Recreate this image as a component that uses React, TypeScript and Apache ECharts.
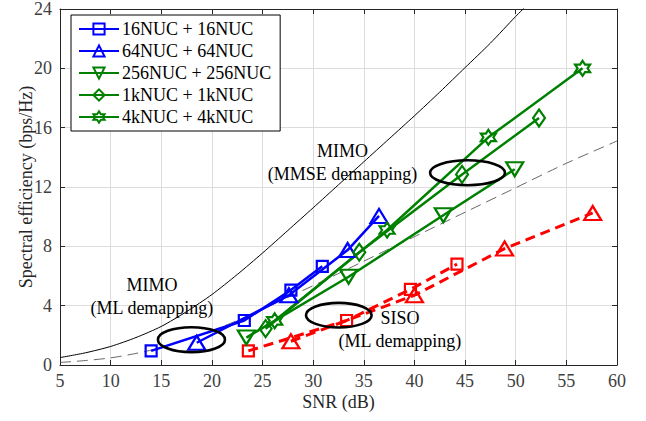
import React, { useEffect, useRef } from "react";
import * as echarts from "echarts";

// ---------- data ----------
const nuc16Snr = [14.0, 23.2, 27.8, 30.9];
const nuc16Se = [0.95, 3.0, 5.05, 6.65];
const nuc64Snr = [18.5, 27.6, 33.4, 36.5];
const nuc64Se = [1.5, 4.7, 7.75, 10.05];
const nuc256Snr = [23.4, 33.5, 42.85, 49.9];
const nuc256Se = [1.85, 5.95, 10.1, 13.2];
const nuc1kSnr = [25.3, 34.55, 44.7, 52.3];
const nuc1kSe = [2.45, 7.6, 12.85, 16.65];
const nuc4kSnr = [26.2, 37.3, 47.3, 56.6];
const nuc4kSe = [2.98, 9.1, 15.35, 20.0];
const sisoNuc16Snr = [23.6, 33.3, 39.6, 44.2];
const sisoNuc16Se = [0.95, 3.0, 5.1, 6.8];
const sisoNuc64Snr = [27.8, 40.0, 48.9, 57.6];
const sisoNuc64Se = [1.6, 4.7, 7.85, 10.25];

const mimoCapSnr = [5, 7.5, 10, 12.5, 15, 17.5, 20, 22.5, 25, 27.5, 30, 32.5, 35, 37.5, 40, 42.5, 45, 47.5, 50, 52.5];
const mimoCapSe = [0.5, 0.82, 1.25, 1.85, 2.6, 3.6, 4.75, 6.1, 7.55, 9.07, 10.6, 12.15, 13.7, 15.25, 16.8, 18.4, 20.05, 21.7, 23.5, 25.2];
const sisoCapSnr = [5, 7.5, 10, 12.5, 15, 17.5, 20, 22.5, 25, 30, 35, 40, 45, 50, 55, 60];
const sisoCapSe = [0.17, 0.3, 0.48, 0.78, 1.17, 1.7, 2.3, 3.0, 3.77, 5.35, 7.0, 8.65, 10.3, 11.95, 13.6, 15.1];

const legendNames = [
  "16NUC + 16NUC",
  "64NUC + 64NUC",
  "256NUC + 256NUC",
  "1kNUC + 1kNUC",
  "4kNUC + 4kNUC",
];

const xTicks = { min: 5, max: 60, interval: 5 };
const yTicks = { min: 0, max: 24, interval: 4 };

// ellipse annotations: centre (snr, se) and radii in data units
const ellipseCx = [17.98, 45.24, 32.53];
const ellipseCy = [1.71, 12.96, 3.36];
const ellipseRx = [3.31, 3.7, 3.24];
const ellipseRy = [0.84, 0.84, 0.83];

// text annotations
const noteText = ["MIMO\n(ML demapping)", "MIMO\n(MMSE demapping)", "SISO\n(ML demapping)"];
const noteX = [14.08, 32.9, 38.57];
const noteY = [4.6, 13.63, 2.39];

// ---------- styles ----------
const FONT = "'Liberation Serif', 'Times New Roman', 'DejaVu Serif', serif";
const BLUE = "#0000ff";
const GREEN = "#008000";
const RED = "#ff0000";
const HEXAGRAM =
  "path://M0,-10 L2.887,-5 L8.66,-5 L5.774,0 L8.66,5 L2.887,5 L0,10 L-2.887,5 L-8.66,5 L-5.774,0 L-8.66,-5 L-2.887,-5 Z";

const pairs = (xs: number[], ys: number[]) => xs.map((x, i) => [x, ys[i]]);

function markerSeries(
  name: string,
  xs: number[],
  ys: number[],
  color: string,
  symbol: string,
  size: any,
  rotate = 0,
  dashed = false
) {
  return {
    name,
    type: "line",
    data: pairs(xs, ys),
    symbol,
    symbolSize: size,
    symbolRotate: rotate,
    showAllSymbol: true,
    lineStyle: { color, width: dashed ? 3 : 2.5, type: dashed ? [10, 6] : "solid" },
    itemStyle: { color: "rgba(255,255,255,0)", borderColor: color, borderWidth: 2.2 },
    z: 5,
  };
}

export default function App() {
  const ref = useRef<HTMLDivElement>(null);
  useEffect(() => {
    const chart = echarts.init(ref.current!, null, { renderer: "svg" });
    const axisText = { fontFamily: FONT, fontSize: 18, color: "#404040" };
    const option: any = {
      animation: false,
      backgroundColor: "#fff",
      textStyle: { fontFamily: FONT },
      grid: { left: 60, right: 29, top: 8, bottom: 56, containLabel: false },
      legend: {
        data: legendNames,
        orient: "vertical",
        left: 71,
        top: 15,
        backgroundColor: "#fff",
        borderColor: "#000",
        borderWidth: 1,
        borderRadius: 0,
        padding: [4, 9, 4, 7],
        itemWidth: 40,
        itemHeight: 14,
        itemGap: 2,
        textStyle: { fontFamily: FONT, fontSize: 18, color: "#000", lineHeight: 20, padding: [0, 0, 0, -2] },
        z: 20,
      },
      xAxis: [
        {
          type: "value",
          ...xTicks,
          name: "SNR (dB)",
          nameLocation: "middle",
          nameGap: 28,
          nameMoveOverlap: false,
          nameTextStyle: { ...axisText, color: "#262626" },
          axisLine: { show: true, onZero: false, lineStyle: { color: "#262626", width: 1 } },
          axisTick: { show: true, inside: true, length: 5, lineStyle: { color: "#262626" } },
          axisLabel: { ...axisText, margin: 7 },
          splitLine: { show: true, lineStyle: { color: "#dcdcdc", width: 1 } },
        },
        {
          type: "value",
          ...xTicks,
          position: "top",
          axisLine: { show: true, onZero: false, lineStyle: { color: "#262626", width: 1 } },
          axisTick: { show: true, inside: true, length: 5, lineStyle: { color: "#262626" } },
          axisLabel: { show: false },
          splitLine: { show: false },
        },
      ],
      yAxis: [
        {
          type: "value",
          ...yTicks,
          name: "Spectral efficiency (bps/Hz)",
          nameLocation: "middle",
          nameGap: 25,
          nameMoveOverlap: false,
          nameTextStyle: { ...axisText, color: "#262626" },
          axisLine: { show: true, onZero: false, lineStyle: { color: "#262626", width: 1 } },
          axisTick: { show: true, inside: true, length: 5, lineStyle: { color: "#262626" } },
          axisLabel: { ...axisText, margin: 8 },
          splitLine: { show: true, lineStyle: { color: "#dcdcdc", width: 1 } },
        },
        {
          type: "value",
          ...yTicks,
          position: "right",
          axisLine: { show: true, onZero: false, lineStyle: { color: "#262626", width: 1 } },
          axisTick: { show: true, inside: true, length: 5, lineStyle: { color: "#262626" } },
          axisLabel: { show: false },
          splitLine: { show: false },
        },
      ],
      series: [
        {
          name: "MIMO capacity",
          type: "line",
          data: pairs(mimoCapSnr, mimoCapSe),
          symbol: "none",
          smooth: 0.25,
          clip: true,
          lineStyle: { color: "#000", width: 1 },
          z: 2,
        },
        {
          name: "SISO capacity",
          type: "line",
          data: pairs(sisoCapSnr, sisoCapSe),
          symbol: "none",
          smooth: 0.25,
          clip: true,
          lineStyle: { color: "#555", width: 0.9, type: [11, 6] },
          z: 2,
        },
        markerSeries("SISO 16NUC", sisoNuc16Snr, sisoNuc16Se, RED, "rect", 11, 0, true),
        markerSeries("SISO 64NUC", sisoNuc64Snr, sisoNuc64Se, RED, "triangle", [17, 14], 0, true),
        markerSeries(legendNames[0], nuc16Snr, nuc16Se, BLUE, "rect", 11),
        markerSeries(legendNames[1], nuc64Snr, nuc64Se, BLUE, "triangle", [17, 14]),
        markerSeries(legendNames[2], nuc256Snr, nuc256Se, GREEN, "triangle", [17, 14], 180),
        markerSeries(legendNames[3], nuc1kSnr, nuc1kSe, GREEN, "diamond", [12, 17]),
        markerSeries(legendNames[4], nuc4kSnr, nuc4kSe, GREEN, HEXAGRAM, 15),
      ],
    };
    chart.setOption(option);

    const px = (p: number[]) => chart.convertToPixel({ seriesIndex: 0 }, p) as number[];
    const graphics: any[] = [];
    ellipseCx.forEach((cx, i) => {
      const c = px([cx, ellipseCy[i]]);
      const r = px([cx + ellipseRx[i], ellipseCy[i] + ellipseRy[i]]);
      graphics.push({
        type: "ellipse",
        shape: { cx: c[0], cy: c[1], rx: r[0] - c[0], ry: c[1] - r[1] },
        style: { fill: "none", stroke: "#000", lineWidth: 2.6 },
        z: 10,
      });
    });
    noteText.forEach((t, i) => {
      const c = px([noteX[i], noteY[i]]);
      graphics.push({
        type: "text",
        x: c[0],
        y: c[1],
        style: {
          text: t,
          fontFamily: FONT,
          fontSize: 18,
          fill: "#000",
          align: "center",
          verticalAlign: "middle",
          lineHeight: 23,
        },
        z: 10,
      });
    });
    chart.setOption({ graphic: graphics });

    return () => chart.dispose();
  }, []);
  return <div ref={ref} style={{ width: 646, height: 421, position: "absolute", left: 0, top: 0 }} />;
}
